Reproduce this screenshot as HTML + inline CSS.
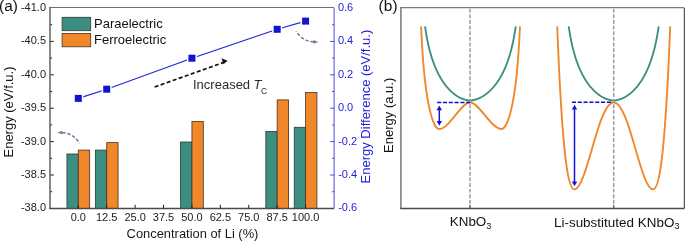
<!DOCTYPE html>
<html><head><meta charset="utf-8"><title>figure</title>
<style>
html,body{margin:0;padding:0;background:#fff;}
body{width:685px;height:241px;overflow:hidden;}
svg{display:block;font-family:"Liberation Sans", sans-serif;will-change:transform;}
</style></head><body>
<svg width="685" height="241" viewBox="0 0 685 241"><rect width="685" height="241" fill="#fff"/><rect x="66.95" y="154.00" width="11.35" height="54.40" fill="#3c8f80" stroke="#2a3a36" stroke-width="0.8"/><rect x="78.30" y="150.10" width="11.35" height="58.30" fill="#f0872a" stroke="#4a3220" stroke-width="0.8"/><rect x="95.36" y="150.10" width="11.35" height="58.30" fill="#3c8f80" stroke="#2a3a36" stroke-width="0.8"/><rect x="106.71" y="142.60" width="11.35" height="65.80" fill="#f0872a" stroke="#4a3220" stroke-width="0.8"/><rect x="180.59" y="142.00" width="11.35" height="66.40" fill="#3c8f80" stroke="#2a3a36" stroke-width="0.8"/><rect x="191.94" y="121.40" width="11.35" height="87.00" fill="#f0872a" stroke="#4a3220" stroke-width="0.8"/><rect x="265.82" y="131.50" width="11.35" height="76.90" fill="#3c8f80" stroke="#2a3a36" stroke-width="0.8"/><rect x="277.17" y="99.90" width="11.35" height="108.50" fill="#f0872a" stroke="#4a3220" stroke-width="0.8"/><rect x="294.23" y="127.30" width="11.35" height="81.10" fill="#3c8f80" stroke="#2a3a36" stroke-width="0.8"/><rect x="305.58" y="92.50" width="11.35" height="115.90" fill="#f0872a" stroke="#4a3220" stroke-width="0.8"/><line x1="49.2" y1="7.5" x2="334.1" y2="7.5" stroke="#707070" stroke-width="1.2"/><line x1="50.0" y1="7" x2="50.0" y2="208.4" stroke="#6a6a6a" stroke-width="1.6"/><line x1="49.2" y1="208.5" x2="334.1" y2="208.5" stroke="#4a4a4a" stroke-width="1.3"/><line x1="334.1" y1="8.0" x2="334.1" y2="208.4" stroke="#4a4ad6" stroke-width="1"/><line x1="50.3" y1="24.70" x2="52.10" y2="24.70" stroke="#222" stroke-width="1"/><line x1="334.1" y1="24.70" x2="332.10" y2="24.70" stroke="#4a4ad6" stroke-width="1"/><line x1="50.3" y1="41.40" x2="53.90" y2="41.40" stroke="#222" stroke-width="1"/><line x1="334.1" y1="41.40" x2="330.10" y2="41.40" stroke="#4a4ad6" stroke-width="1"/><line x1="50.3" y1="58.10" x2="52.10" y2="58.10" stroke="#222" stroke-width="1"/><line x1="334.1" y1="58.10" x2="332.10" y2="58.10" stroke="#4a4ad6" stroke-width="1"/><line x1="50.3" y1="74.80" x2="53.90" y2="74.80" stroke="#222" stroke-width="1"/><line x1="334.1" y1="74.80" x2="330.10" y2="74.80" stroke="#4a4ad6" stroke-width="1"/><line x1="50.3" y1="91.50" x2="52.10" y2="91.50" stroke="#222" stroke-width="1"/><line x1="334.1" y1="91.50" x2="332.10" y2="91.50" stroke="#4a4ad6" stroke-width="1"/><line x1="50.3" y1="108.20" x2="53.90" y2="108.20" stroke="#222" stroke-width="1"/><line x1="334.1" y1="108.20" x2="330.10" y2="108.20" stroke="#4a4ad6" stroke-width="1"/><line x1="50.3" y1="124.90" x2="52.10" y2="124.90" stroke="#222" stroke-width="1"/><line x1="334.1" y1="124.90" x2="332.10" y2="124.90" stroke="#4a4ad6" stroke-width="1"/><line x1="50.3" y1="141.60" x2="53.90" y2="141.60" stroke="#222" stroke-width="1"/><line x1="334.1" y1="141.60" x2="330.10" y2="141.60" stroke="#4a4ad6" stroke-width="1"/><line x1="50.3" y1="158.30" x2="52.10" y2="158.30" stroke="#222" stroke-width="1"/><line x1="334.1" y1="158.30" x2="332.10" y2="158.30" stroke="#4a4ad6" stroke-width="1"/><line x1="50.3" y1="175.00" x2="53.90" y2="175.00" stroke="#222" stroke-width="1"/><line x1="334.1" y1="175.00" x2="330.10" y2="175.00" stroke="#4a4ad6" stroke-width="1"/><line x1="50.3" y1="191.70" x2="52.10" y2="191.70" stroke="#222" stroke-width="1"/><line x1="334.1" y1="191.70" x2="332.10" y2="191.70" stroke="#4a4ad6" stroke-width="1"/><line x1="78.30" y1="208.4" x2="78.30" y2="204.80" stroke="#222" stroke-width="1"/><line x1="106.71" y1="208.4" x2="106.71" y2="204.80" stroke="#222" stroke-width="1"/><line x1="135.12" y1="208.4" x2="135.12" y2="204.80" stroke="#222" stroke-width="1"/><line x1="163.53" y1="208.4" x2="163.53" y2="204.80" stroke="#222" stroke-width="1"/><line x1="191.94" y1="208.4" x2="191.94" y2="204.80" stroke="#222" stroke-width="1"/><line x1="220.35" y1="208.4" x2="220.35" y2="204.80" stroke="#222" stroke-width="1"/><line x1="248.76" y1="208.4" x2="248.76" y2="204.80" stroke="#222" stroke-width="1"/><line x1="277.17" y1="208.4" x2="277.17" y2="204.80" stroke="#222" stroke-width="1"/><line x1="305.58" y1="208.4" x2="305.58" y2="204.80" stroke="#222" stroke-width="1"/><text x="46" y="11.00" font-size="11" text-anchor="end" fill="#222">-41.0</text><text x="46" y="44.40" font-size="11" text-anchor="end" fill="#222">-40.5</text><text x="46" y="77.80" font-size="11" text-anchor="end" fill="#222">-40.0</text><text x="46" y="111.20" font-size="11" text-anchor="end" fill="#222">-39.5</text><text x="46" y="144.60" font-size="11" text-anchor="end" fill="#222">-39.0</text><text x="46" y="178.00" font-size="11" text-anchor="end" fill="#222">-38.5</text><text x="46" y="211.40" font-size="11" text-anchor="end" fill="#222">-38.0</text><text x="337.9" y="11.00" font-size="11" fill="#2424d8">0.6</text><text x="337.9" y="44.40" font-size="11" fill="#2424d8">0.4</text><text x="337.9" y="77.80" font-size="11" fill="#2424d8">0.2</text><text x="337.9" y="111.20" font-size="11" fill="#2424d8">0.0</text><text x="338.2" y="144.60" font-size="11" fill="#2424d8">-0.2</text><text x="338.2" y="178.00" font-size="11" fill="#2424d8">-0.4</text><text x="338.2" y="211.40" font-size="11" fill="#2424d8">-0.6</text><text x="78.30" y="221.4" font-size="11" text-anchor="middle" fill="#222">0.0</text><text x="106.71" y="221.4" font-size="11" text-anchor="middle" fill="#222">12.5</text><text x="135.12" y="221.4" font-size="11" text-anchor="middle" fill="#222">25.0</text><text x="163.53" y="221.4" font-size="11" text-anchor="middle" fill="#222">37.5</text><text x="191.94" y="221.4" font-size="11" text-anchor="middle" fill="#222">50.0</text><text x="220.35" y="221.4" font-size="11" text-anchor="middle" fill="#222">62.5</text><text x="248.76" y="221.4" font-size="11" text-anchor="middle" fill="#222">75.0</text><text x="277.17" y="221.4" font-size="11" text-anchor="middle" fill="#222">87.5</text><text x="305.58" y="221.4" font-size="11" text-anchor="middle" fill="#222">100.0</text><text x="192.5" y="237.9" font-size="12.9" text-anchor="middle" fill="#1a1a1a">Concentration of Li (%)</text><text transform="translate(13.2,112) rotate(-90)" font-size="13" text-anchor="middle" fill="#111">Energy (eV/f.u.)</text><text transform="translate(370.1,106.6) rotate(-90)" font-size="13" text-anchor="middle" fill="#1c1ce0">Energy Difference (eV/f.u.)</text><rect x="62.1" y="17.3" width="28.6" height="13.4" fill="#3c8f80" stroke="#2a3a36" stroke-width="0.8"/><rect x="62.1" y="33.4" width="28.6" height="13.4" fill="#f0872a" stroke="#4a3220" stroke-width="0.8"/><text x="94" y="28.4" font-size="13" fill="#111">Paraelectric</text><text x="94" y="43.8" font-size="13" fill="#111">Ferroelectric</text><polyline points="78.30,98.40 106.71,89.20 191.94,58.20 277.17,29.30 305.58,21.10" fill="none" stroke="#2222d8" stroke-width="1.15"/><rect x="73.30" y="93.40" width="10" height="10" fill="#fff"/><rect x="74.80" y="94.90" width="7" height="7" fill="#1212d2"/><rect x="101.71" y="84.20" width="10" height="10" fill="#fff"/><rect x="103.21" y="85.70" width="7" height="7" fill="#1212d2"/><rect x="186.94" y="53.20" width="10" height="10" fill="#fff"/><rect x="188.44" y="54.70" width="7" height="7" fill="#1212d2"/><rect x="272.17" y="24.30" width="10" height="10" fill="#fff"/><rect x="273.67" y="25.80" width="7" height="7" fill="#1212d2"/><rect x="300.58" y="16.10" width="10" height="10" fill="#fff"/><rect x="302.08" y="17.60" width="7" height="7" fill="#1212d2"/><defs><marker id="ah" markerWidth="6" markerHeight="6" refX="5" refY="3" orient="auto" markerUnits="userSpaceOnUse"><path d="M0,0 L6,3 L0,6 z" fill="#111"/></marker><marker id="ag" markerWidth="7" markerHeight="6" refX="5" refY="3" orient="auto" markerUnits="userSpaceOnUse"><path d="M0,0.5 L7,3 L0,5.5 z" fill="#6a7590"/></marker></defs><line x1="154.6" y1="87" x2="224" y2="62.3" stroke="#111" stroke-width="1.7" stroke-dasharray="4,2.4"/><path d="M221.5,58.2 L227.6,60.8 L223.5,64.2 z" fill="#111"/><text x="193" y="88.8" font-size="13" fill="#2a2a2a">Increased <tspan x="253.6" font-style="italic">T</tspan><tspan x="260.9" font-size="8.5" dy="4.8">C</tspan></text><path d="M314.5,41.9 Q303.2,41.9 296.1,31.4" fill="none" stroke="#74809c" stroke-width="1.6" stroke-dasharray="4.2,1.8,3.4,1.8,3.4,1.8,3.4,1.8,3.4,1.8"/><path d="M313.4,40.0 L318.4,41.9 L313.4,43.8 z" fill="#74809c"/><path d="M61.5,132.6 Q72.4,132.6 79.7,143.2" fill="none" stroke="#74809c" stroke-width="1.6" stroke-dasharray="4.2,1.8,3.4,1.8,3.4,1.8,3.4,1.8,3.4,1.8"/><path d="M62.4,130.7 L57.3,132.6 L62.4,134.5 z" fill="#74809c"/><text x="-1" y="10.6" font-size="15.4" fill="#111">(a)</text><text x="378.5" y="10.6" font-size="15.4" fill="#111" letter-spacing="0.1">(b)</text><path d="M421.10,26.40 C425.08,121.07 436.40,129.00 439.10,129.00 C449.52,129.00 461.01,102.30 470.00,102.30 C479.19,102.30 490.93,129.00 501.58,129.00 C504.34,129.00 515.90,121.07 519.98,26.40" fill="none" stroke="#f0872a" stroke-width="1.85" stroke-linejoin="round"/><path d="M425.00,26.40 C435.29,101.28 469.50,100.60 470.00,100.60 C470.51,100.60 505.34,101.28 515.81,26.40" fill="none" stroke="#3c8f80" stroke-width="1.85" stroke-linejoin="round"/><path d="M557.20,26.40 C562.88,171.88 569.38,189.40 574.30,189.40 C586.80,189.40 598.13,102.20 613.70,102.20 C629.27,102.20 640.60,189.40 653.10,189.40 C658.02,189.40 664.52,171.88 670.20,26.40" fill="none" stroke="#f0872a" stroke-width="1.85" stroke-linejoin="round"/><path d="M568.70,26.40 C578.99,101.28 613.20,100.60 613.70,100.60 C614.20,100.60 648.41,101.28 658.70,26.40" fill="none" stroke="#3c8f80" stroke-width="1.85" stroke-linejoin="round"/><line x1="470.0" y1="8.0" x2="470.0" y2="208.4" stroke="#9c9c9c" stroke-width="1.5" stroke-dasharray="3.9,1.72" stroke-dashoffset="4.82"/><line x1="613.7" y1="8.0" x2="613.7" y2="208.4" stroke="#9c9c9c" stroke-width="1.5" stroke-dasharray="3.9,1.72" stroke-dashoffset="4.82"/><line x1="437.1" y1="102.5" x2="470.2" y2="102.5" stroke="#0e0ed0" stroke-width="1.45" stroke-dasharray="4.1,1.72"/><line x1="571.9" y1="102.2" x2="612.5" y2="102.2" stroke="#0e0ed0" stroke-width="1.45" stroke-dasharray="4.1,1.72"/><line x1="439.3" y1="109.0" x2="439.3" y2="122.3" stroke="#1414d0" stroke-width="1.5"/><path d="M439.3,105.5 L442.0,110.2 L436.6,110.2 z" fill="#1414d0"/><path d="M439.3,125.8 L442.0,121.1 L436.6,121.1 z" fill="#1414d0"/><line x1="574.5" y1="108.2" x2="574.5" y2="182.7" stroke="#1414d0" stroke-width="1.5"/><path d="M574.5,104.7 L577.2,109.4 L571.8,109.4 z" fill="#1414d0"/><path d="M574.5,186.2 L577.2,181.5 L571.8,181.5 z" fill="#1414d0"/><line x1="400.2" y1="7.6" x2="684.3" y2="7.6" stroke="#7a7a7a" stroke-width="1.3"/><line x1="400.9" y1="7" x2="400.9" y2="208.4" stroke="#808080" stroke-width="1.6"/><line x1="400.2" y1="208.5" x2="684.3" y2="208.5" stroke="#4a4a4a" stroke-width="1.3"/><line x1="684.3" y1="8.0" x2="684.3" y2="208.4" stroke="#303030" stroke-width="1"/><line x1="470.0" y1="208.4" x2="470.0" y2="204.8" stroke="#555" stroke-width="1"/><line x1="613.7" y1="208.4" x2="613.7" y2="204.8" stroke="#555" stroke-width="1"/><text transform="translate(393.3,115.3) rotate(-90)" font-size="13" text-anchor="middle" fill="#111">Energy (a.u.)</text><text x="449.8" y="226.3" font-size="13.4" fill="#111">KNbO<tspan font-size="9" dy="2.3">3</tspan></text><text x="553.9" y="226.7" font-size="13.4" fill="#111" letter-spacing="0.04">Li-substituted KNbO<tspan font-size="9" dy="2.3">3</tspan></text></svg>
</body></html>
